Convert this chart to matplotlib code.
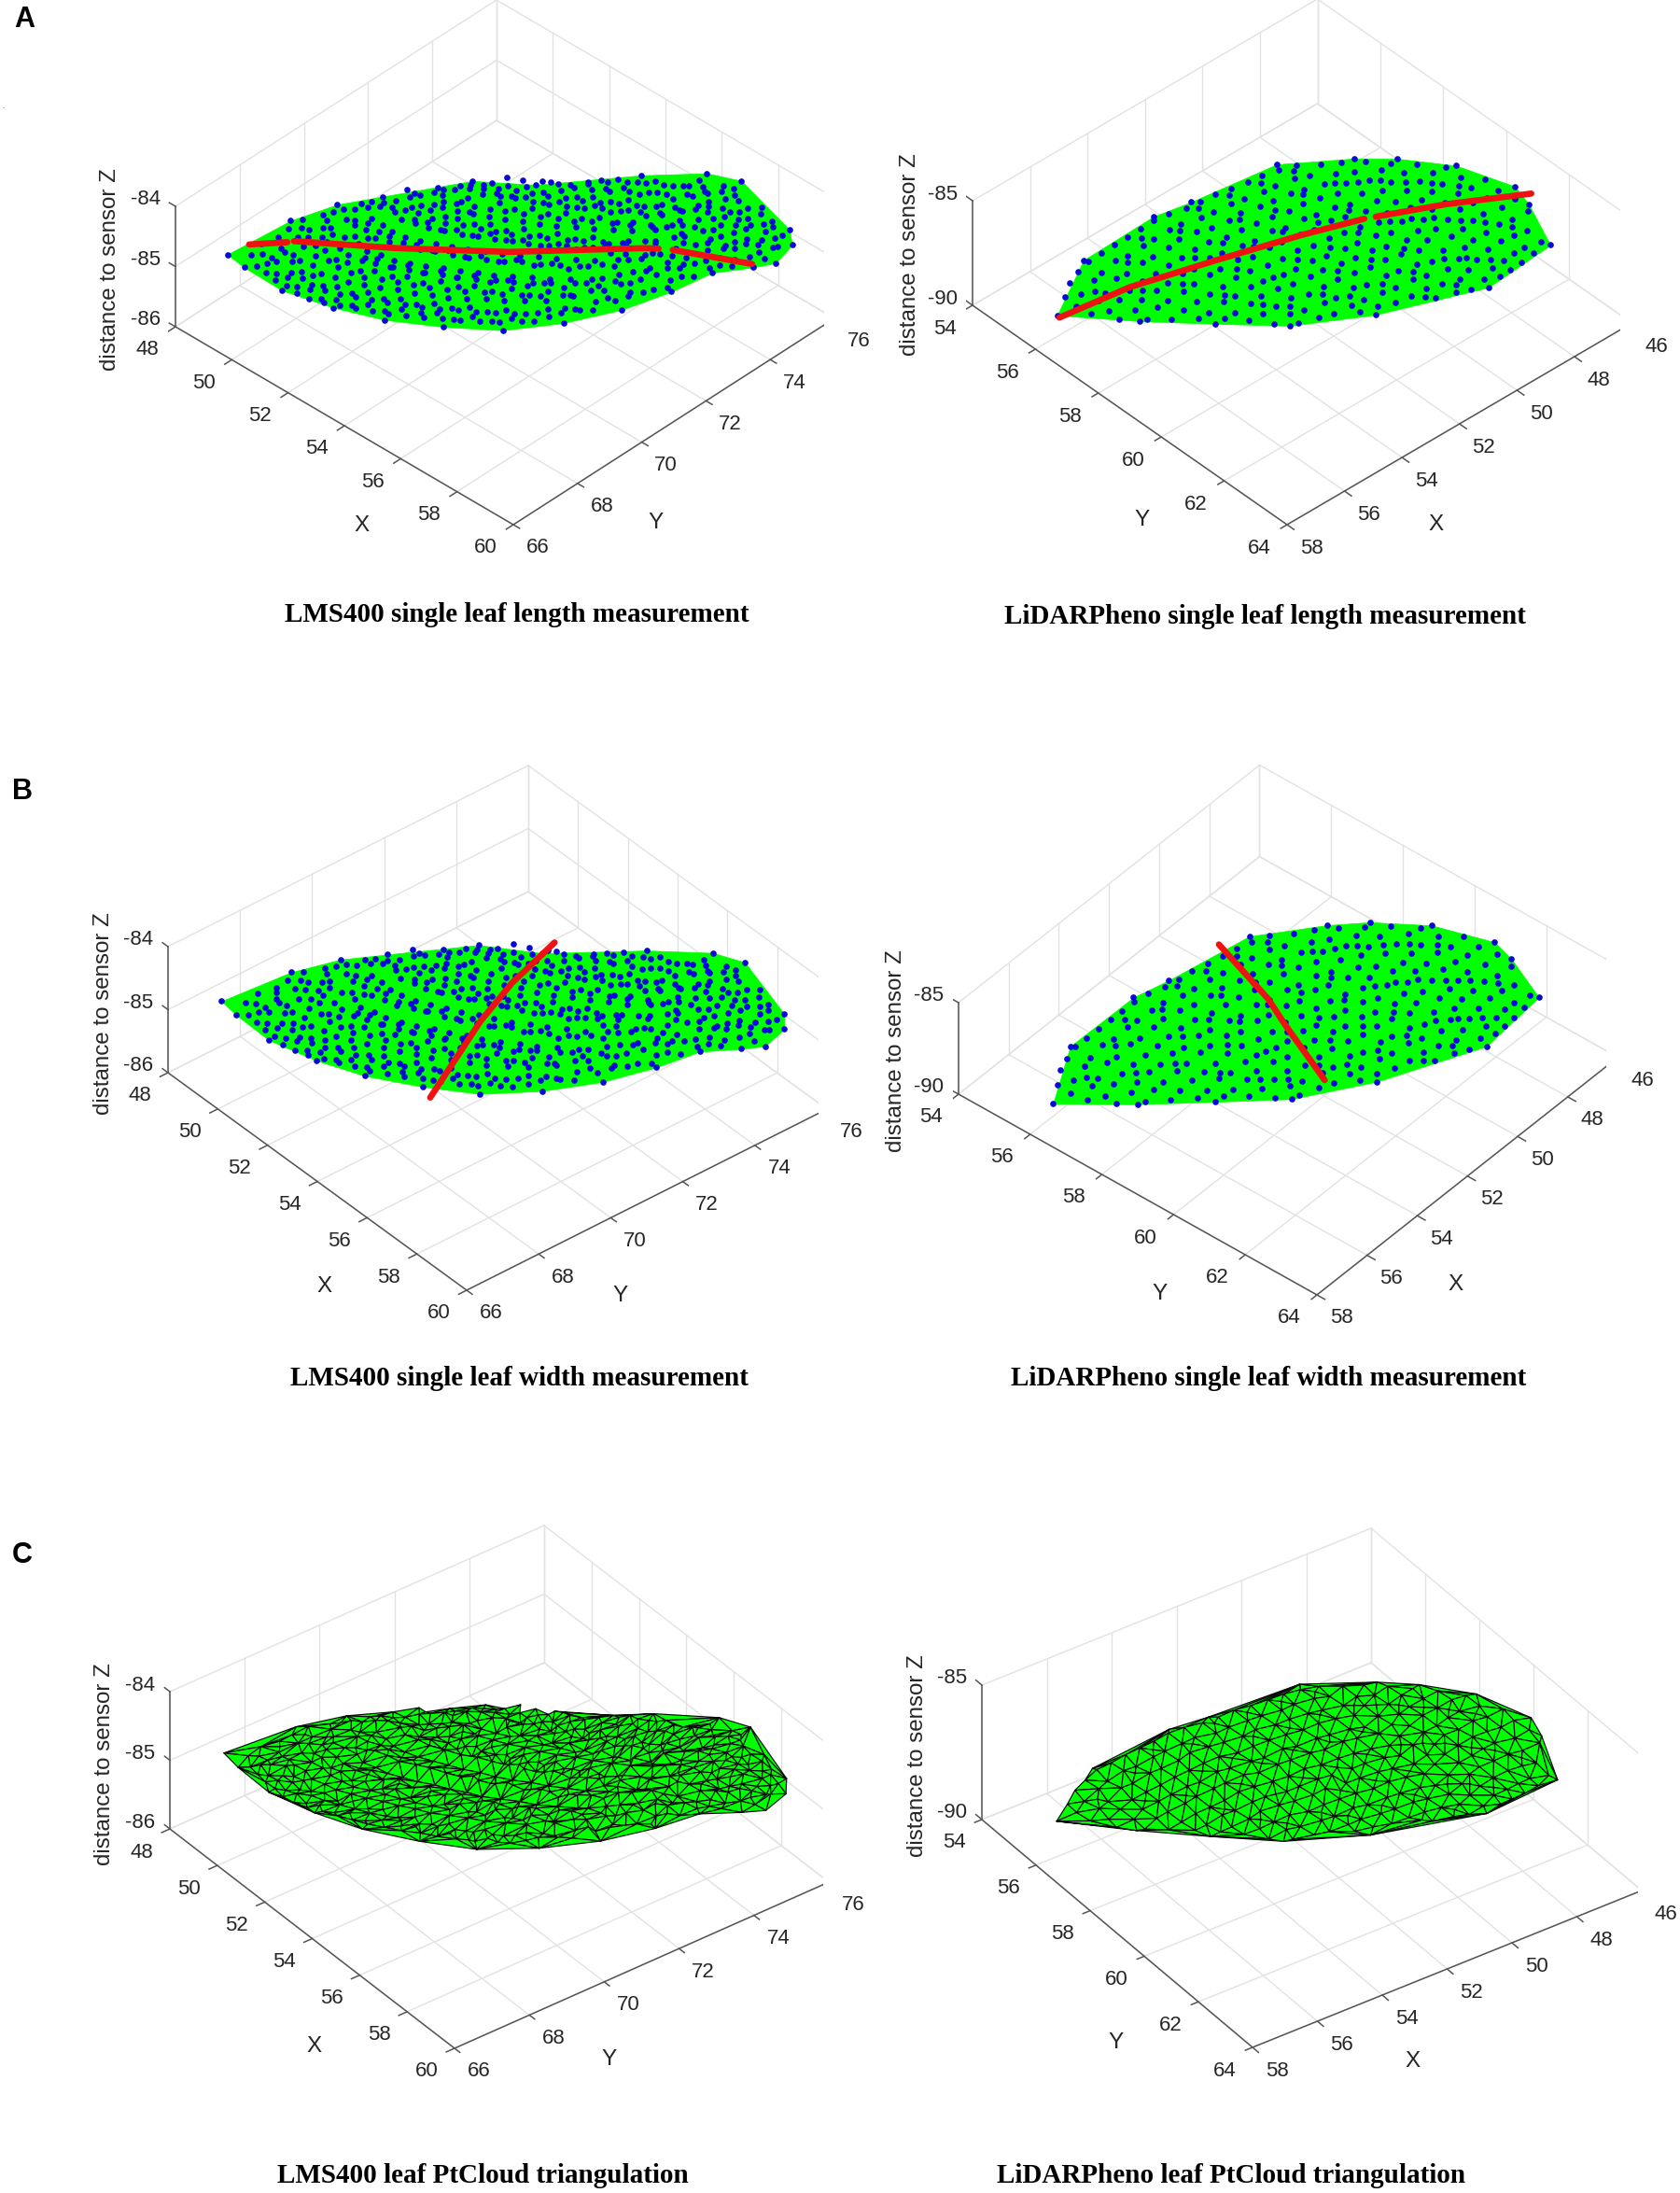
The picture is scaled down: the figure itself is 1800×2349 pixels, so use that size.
#!/usr/bin/python3
# leaf point clouds seen from three oblique views (LMS400 left, LiDARPheno right)
import numpy as np
import matplotlib
matplotlib.use('Agg')
import matplotlib.pyplot as plt
import matplotlib.tri as mtri
from matplotlib.path import Path
from mpl_toolkits.mplot3d import proj3d
from mpl_toolkits.mplot3d.art3d import Poly3DCollection

plt.rcParams['font.family'] = ['Liberation Sans', 'DejaVu Sans']

W, H = 1800, 2349

lms_x_ticks = [48, 50, 52, 54, 56, 58, 60]
lms_y_ticks = [66, 68, 70, 72, 74, 76]
lms_z_ticks = [-86, -85, -84]
lidar_x_ticks = [46, 48, 50, 52, 54, 56, 58]
lidar_y_ticks = [54, 56, 58, 60, 62, 64]
lidar_z_ticks = [-90, -85]

lms_outline = [(48.7,67.0,-84.95),(48.9,68.8,-84.95),(49.3,69.9,-84.95),(50.0,70.7,-84.9),(51.3,72.35,-84.85),
    (52.6,73.2,-84.85),(54.5,74.8,-84.72),(55.7,75.8,-84.7),(56.7,76.0,-84.62),(58.85,75.6,-84.7),(59.3,75.3,-84.73),
    (59.4,74.7,-84.8),(59.1,74.25,-84.8),(58.5,73.5,-84.8),(58.2,72.5,-84.85),(57.8,71.3,-84.85),(57.1,70.1,-84.85),
    (56.2,69.0,-84.84),(54.9,68.3,-84.9),(53.6,67.6,-84.9),(52.3,67.15,-84.9),(50.75,66.9,-84.95),(49.3,67.0,-85.0)]

lms_cloud = [
    (49.1,67.4,-84.98),(49.0,67.8,-84.97),(49.15,68.2,-84.95),(49.05,68.6,-84.98),(49.1,69.0,-84.94),
    (49.5,67.2,-84.99),(49.6,67.6,-84.96),(49.45,68.0,-84.98),(49.55,68.45,-84.93),(49.5,68.85,-84.95),(49.6,69.3,-84.92),(49.45,69.65,-84.95),
    (49.9,67.15,-84.98),(49.8,67.55,-84.96),(49.95,67.95,-84.94),(49.85,68.35,-84.97),(50.0,68.8,-84.92),(49.85,69.2,-84.94),(49.95,69.6,-84.91),(49.8,70.0,-84.93),(49.95,70.4,-84.9),
    (50.3,67.1,-84.97),(50.4,67.5,-84.95),(50.25,67.9,-84.93),(50.35,68.3,-84.96),(50.25,68.75,-84.91),(50.4,69.15,-84.94),(50.3,69.55,-84.9),(50.4,70.0,-84.92),(50.25,70.4,-84.89),(50.35,70.8,-84.91),(50.3,71.2,-84.88),
    (50.7,67.1,-84.96),(50.8,67.5,-84.94),(50.65,67.95,-84.92),(50.75,68.35,-84.95),(50.7,68.75,-84.9),(50.85,69.2,-84.93),(50.65,69.6,-84.89),(50.8,70.0,-84.91),(50.7,70.45,-84.88),(50.85,70.85,-84.9),(50.7,71.25,-84.87),(50.8,71.7,-84.88),
    (51.1,67.05,-84.96),(51.2,67.45,-84.93),(51.05,67.85,-84.91),(51.15,68.3,-84.94),(51.05,68.7,-84.89),(51.25,69.1,-84.92),(51.1,69.5,-84.88),(51.2,69.95,-84.9),(51.05,70.35,-84.87),(51.15,70.8,-84.89),(51.25,71.2,-84.86),(51.1,71.6,-84.88),(51.2,72.05,-84.85),
    (51.5,67.1,-84.95),(51.6,67.5,-84.92),(51.45,67.95,-84.9),(51.55,68.35,-84.93),(51.5,68.75,-84.88),(51.65,69.2,-84.91),(51.5,69.6,-84.87),(51.6,70.0,-84.89),(51.45,70.45,-84.86),(51.6,70.85,-84.88),(51.5,71.25,-84.85),(51.65,71.7,-84.87),(51.5,72.1,-84.84),(51.6,72.45,-84.86),
    (51.9,67.2,-84.94),(52.0,67.6,-84.91),(51.85,68.0,-84.89),(51.95,68.4,-84.92),(51.85,68.85,-84.87),(52.05,69.25,-84.9),(51.9,69.65,-84.86),(52.0,70.1,-84.88),(51.85,70.5,-84.85),(52.0,70.9,-84.87),(51.9,71.35,-84.84),(52.05,71.75,-84.86),(51.9,72.15,-84.83),(52.0,72.55,-84.85),(51.9,72.9,-84.82),
    (52.3,67.35,-84.93),(52.4,67.75,-84.9),(52.25,68.15,-84.88),(52.35,68.6,-84.91),(52.3,69.0,-84.86),(52.45,69.4,-84.89),(52.3,69.85,-84.85),(52.4,70.25,-84.87),(52.25,70.65,-84.84),(52.4,71.1,-84.86),(52.3,71.5,-84.83),(52.45,71.9,-84.85),(52.3,72.35,-84.82),(52.4,72.75,-84.84),(52.3,73.05,-84.81),
    (52.7,67.5,-84.92),(52.8,67.9,-84.89),(52.65,68.3,-84.87),(52.75,68.75,-84.9),(52.7,69.15,-84.85),(52.85,69.55,-84.88),(52.65,70.0,-84.84),(52.8,70.4,-84.86),(52.7,70.8,-84.83),(52.85,71.25,-84.85),(52.7,71.65,-84.82),(52.8,72.05,-84.84),(52.65,72.5,-84.81),(52.8,72.9,-84.83),(52.7,73.3,-84.8),
    (53.1,67.65,-84.91),(53.2,68.05,-84.88),(53.05,68.5,-84.86),(53.15,68.9,-84.89),(53.1,69.3,-84.84),(53.25,69.75,-84.87),(53.1,70.15,-84.83),(53.2,70.55,-84.85),(53.05,71.0,-84.82),(53.2,71.4,-84.84),(53.1,71.8,-84.81),(53.25,72.25,-84.83),(53.1,72.65,-84.8),(53.2,73.05,-84.82),(53.1,73.45,-84.79),
    (53.5,67.8,-84.9),(53.6,68.25,-84.87),(53.45,68.65,-84.85),(53.55,69.05,-84.88),(53.5,69.5,-84.83),(53.65,69.9,-84.86),(53.5,70.3,-84.82),(53.6,70.75,-84.84),(53.45,71.15,-84.81),(53.6,71.55,-84.83),(53.5,72.0,-84.8),(53.65,72.4,-84.82),(53.5,72.8,-84.79),(53.6,73.25,-84.81),(53.5,73.6,-84.78),(53.6,73.95,-84.79),
    (53.9,68.0,-84.89),(54.0,68.4,-84.86),(53.85,68.85,-84.84),(53.95,69.25,-84.87),(53.85,69.65,-84.82),(54.05,70.1,-84.85),(53.9,70.5,-84.81),(54.0,70.9,-84.83),(53.85,71.35,-84.8),(54.0,71.75,-84.82),(53.9,72.15,-84.79),(54.05,72.6,-84.81),(53.9,73.0,-84.78),(54.0,73.4,-84.8),(53.9,73.8,-84.77),(54.0,74.2,-84.76),
    (54.3,68.2,-84.88),(54.4,68.6,-84.85),(54.25,69.0,-84.83),(54.35,69.45,-84.86),(54.3,69.85,-84.81),(54.45,70.25,-84.84),(54.3,70.7,-84.8),(54.4,71.1,-84.82),(54.25,71.5,-84.79),(54.4,71.95,-84.81),(54.3,72.35,-84.78),(54.45,72.75,-84.8),(54.3,73.2,-84.77),(54.4,73.6,-84.79),(54.3,74.0,-84.76),(54.4,74.45,-84.74),
    (54.7,68.45,-84.87),(54.8,68.85,-84.84),(54.65,69.25,-84.82),(54.75,69.7,-84.85),(54.7,70.1,-84.8),(54.85,70.5,-84.83),(54.65,70.95,-84.79),(54.8,71.35,-84.81),(54.7,71.75,-84.78),(54.85,72.2,-84.8),(54.7,72.6,-84.77),(54.8,73.0,-84.79),(54.65,73.45,-84.76),(54.8,73.85,-84.78),(54.7,74.25,-84.75),(54.8,74.7,-84.73),
    (55.1,68.65,-84.86),(55.2,69.05,-84.83),(55.05,69.5,-84.81),(55.15,69.9,-84.84),(55.1,70.3,-84.79),(55.25,70.75,-84.82),(55.1,71.15,-84.78),(55.2,71.55,-84.8),(55.05,72.0,-84.77),(55.2,72.4,-84.79),(55.1,72.8,-84.76),(55.25,73.25,-84.78),(55.1,73.65,-84.75),(55.2,74.05,-84.77),(55.1,74.5,-84.74),(55.2,74.9,-84.72),
    (55.5,68.9,-84.85),(55.6,69.3,-84.82),(55.45,69.7,-84.8),(55.55,70.15,-84.83),(55.5,70.55,-84.78),(55.65,70.95,-84.81),(55.5,71.4,-84.77),(55.6,71.8,-84.79),(55.45,72.2,-84.76),(55.6,72.65,-84.78),(55.5,73.05,-84.75),(55.65,73.45,-84.77),(55.5,73.9,-84.74),(55.6,74.3,-84.76),(55.5,74.7,-84.73),(55.6,75.15,-84.71),
    (55.9,69.15,-84.84),(56.0,69.55,-84.81),(55.85,70.0,-84.79),(55.95,70.4,-84.82),(55.85,70.8,-84.77),(56.05,71.25,-84.8),(55.9,71.65,-84.76),(56.0,72.05,-84.78),(55.85,72.5,-84.75),(56.0,72.9,-84.77),(55.9,73.3,-84.74),(56.05,73.75,-84.76),(55.9,74.15,-84.73),(56.0,74.55,-84.75),(55.9,75.0,-84.72),(56.0,75.4,-84.7),
    (56.3,69.5,-84.83),(56.4,69.9,-84.8),(56.25,70.3,-84.78),(56.35,70.75,-84.81),(56.3,71.15,-84.76),(56.45,71.55,-84.79),(56.3,72.0,-84.75),(56.4,72.4,-84.77),(56.25,72.8,-84.74),(56.4,73.25,-84.76),(56.3,73.65,-84.73),(56.45,74.05,-84.75),(56.3,74.5,-84.72),(56.4,74.9,-84.74),(56.3,75.3,-84.7),(56.4,75.7,-84.68),
    (56.7,70.0,-84.82),(56.8,70.4,-84.79),(56.65,70.8,-84.77),(56.75,71.25,-84.8),(56.7,71.65,-84.75),(56.85,72.05,-84.78),(56.65,72.5,-84.74),(56.8,72.9,-84.76),(56.7,73.3,-84.73),(56.85,73.75,-84.75),(56.7,74.15,-84.72),(56.8,74.55,-84.74),(56.65,75.0,-84.71),(56.8,75.4,-84.69),(56.7,75.75,-84.67),
    (57.1,70.6,-84.81),(57.2,71.0,-84.78),(57.05,71.4,-84.76),(57.15,71.85,-84.79),(57.1,72.25,-84.74),(57.25,72.65,-84.77),(57.1,73.1,-84.73),(57.2,73.5,-84.75),(57.05,73.9,-84.72),(57.2,74.35,-84.74),(57.1,74.75,-84.71),(57.25,75.15,-84.7),(57.1,75.55,-84.68),
    (57.5,71.35,-84.8),(57.6,71.75,-84.77),(57.45,72.2,-84.75),(57.55,72.6,-84.78),(57.5,73.0,-84.73),(57.65,73.45,-84.76),(57.5,73.85,-84.72),(57.6,74.25,-84.74),(57.45,74.7,-84.71),(57.6,75.1,-84.7),(57.5,75.5,-84.68),
    (57.9,72.2,-84.79),(58.0,72.65,-84.76),(57.85,73.05,-84.74),(57.95,73.45,-84.77),(57.9,73.9,-84.72),(58.05,74.3,-84.75),(57.9,74.7,-84.71),(58.0,75.15,-84.7),(57.9,75.55,-84.69),
    (58.3,73.1,-84.78),(58.4,73.5,-84.75),(58.25,73.95,-84.77),(58.35,74.35,-84.73),(58.3,74.75,-84.72),(58.45,75.2,-84.71),(58.3,75.55,-84.7),
    (58.7,73.95,-84.78),(58.8,74.4,-84.75),(58.65,74.8,-84.74),(58.8,75.2,-84.72),
    (59.1,74.6,-84.77),(59.05,75.05,-84.74),
]

# second pass over the same leaf, dots that fall between the rows above
lms_cloud_between = [
    (49.3,67.55,-84.97),(49.25,68.15,-84.99),(49.35,68.75,-84.93),(49.3,69.45,-84.96),
    (49.7,67.35,-84.94),(49.65,67.95,-84.98),(49.75,68.6,-84.92),(49.7,69.1,-84.96),(49.65,69.8,-84.9),(49.75,70.25,-84.93),
    (50.1,67.3,-84.98),(50.15,67.75,-84.93),(50.05,68.55,-84.97),(50.15,69.0,-84.9),(50.1,69.75,-84.94),(50.05,70.2,-84.89),(50.15,70.6,-84.92),
    (50.5,67.3,-84.94),(50.55,67.7,-84.97),(50.45,68.5,-84.91),(50.55,69.35,-84.95),(50.5,69.8,-84.89),(50.45,70.6,-84.92),(50.55,71.05,-84.87),(50.5,71.25,-84.9),
    (50.9,67.25,-84.97),(50.95,67.7,-84.92),(50.85,68.5,-84.96),(50.95,69.4,-84.89),(50.9,69.8,-84.93),(50.85,70.65,-84.87),(50.95,71.05,-84.91),(50.9,71.5,-84.86),(50.95,71.75,-84.89),
    (51.3,67.3,-84.92),(51.35,67.65,-84.96),(51.25,68.5,-84.9),(51.35,68.95,-84.94),(51.3,69.75,-84.87),(51.25,70.6,-84.91),(51.35,71.0,-84.85),(51.3,71.45,-84.89),(51.25,71.85,-84.84),(51.35,72.25,-84.87),
    (51.7,67.3,-84.96),(51.75,67.75,-84.9),(51.65,68.55,-84.94),(51.75,69.0,-84.87),(51.7,69.85,-84.91),(51.65,70.65,-84.85),(51.75,71.1,-84.89),(51.7,71.5,-84.83),(51.65,71.9,-84.88),(51.75,72.3,-84.83),(51.7,72.6,-84.86),
    (52.1,67.4,-84.9),(52.15,67.85,-84.94),(52.05,68.65,-84.87),(52.15,69.05,-84.91),(52.1,69.9,-84.85),(52.05,70.7,-84.89),(52.15,71.15,-84.83),(52.1,71.55,-84.87),(52.15,72.35,-84.82),(52.1,72.75,-84.85),
    (52.5,67.55,-84.94),(52.55,68.0,-84.87),(52.45,68.85,-84.92),(52.55,69.25,-84.85),(52.5,70.05,-84.89),(52.45,70.85,-84.83),(52.55,71.3,-84.87),(52.5,72.15,-84.81),(52.45,72.55,-84.86),(52.55,72.95,-84.81),
    (52.9,67.7,-84.87),(52.95,68.15,-84.91),(52.85,68.95,-84.84),(52.95,69.35,-84.89),(52.9,70.2,-84.82),(52.85,71.0,-84.87),(52.95,71.45,-84.81),(52.9,72.25,-84.85),(52.85,72.65,-84.79),(52.95,73.1,-84.84),(52.9,73.4,-84.79),
    (53.3,67.85,-84.92),(53.35,68.3,-84.85),(53.25,69.1,-84.9),(53.35,69.55,-84.82),(53.3,70.35,-84.87),(53.25,71.2,-84.8),(53.35,71.6,-84.85),(53.3,72.45,-84.79),(53.25,72.85,-84.84),(53.35,73.3,-84.78),(53.3,73.65,-84.82),
    (53.7,68.05,-84.85),(53.75,68.45,-84.9),(53.65,69.3,-84.82),(53.75,69.7,-84.87),(53.7,70.5,-84.8),(53.65,71.35,-84.85),(53.75,71.8,-84.79),(53.7,72.6,-84.83),(53.65,73.0,-84.77),(53.75,73.45,-84.82),(53.7,73.85,-84.76),(53.75,74.2,-84.8),
    (54.1,68.3,-84.89),(54.15,68.65,-84.83),(54.05,69.5,-84.88),(54.15,69.9,-84.8),(54.1,70.7,-84.85),(54.05,71.5,-84.78),(54.15,71.95,-84.83),(54.1,72.8,-84.77),(54.05,73.2,-84.82),(54.15,73.6,-84.76),(54.1,74.05,-84.8),(54.15,74.4,-84.74),
    (54.5,68.45,-84.83),(54.55,68.85,-84.88),(54.45,69.65,-84.8),(54.55,70.05,-84.85),(54.5,70.9,-84.78),(54.45,71.7,-84.83),(54.55,72.15,-84.76),(54.5,72.95,-84.81),(54.45,73.4,-84.75),(54.55,73.8,-84.8),(54.5,74.25,-84.73),(54.55,74.65,-84.77),
    (54.9,68.6,-84.88),(54.95,69.05,-84.81),(54.85,69.85,-84.86),(54.95,70.25,-84.78),(54.9,71.1,-84.83),(54.85,71.9,-84.76),(54.95,72.35,-84.81),(54.9,73.15,-84.75),(54.85,73.55,-84.8),(54.95,74.0,-84.73),(54.9,74.4,-84.78),(54.95,74.85,-84.71),
    (55.3,68.85,-84.81),(55.35,69.25,-84.86),(55.25,70.1,-84.78),(55.35,70.5,-84.84),(55.3,71.3,-84.76),(55.25,72.1,-84.81),(55.35,72.55,-84.74),(55.3,73.35,-84.79),(55.25,73.75,-84.73),(55.35,74.15,-84.78),(55.3,74.6,-84.71),(55.35,75.05,-84.75),
    (55.7,69.1,-84.86),(55.75,69.5,-84.79),(55.65,70.3,-84.85),(55.75,70.7,-84.76),(55.7,71.5,-84.82),(55.65,72.3,-84.74),(55.75,72.7,-84.8),(55.7,73.5,-84.73),(55.65,73.95,-84.78),(55.75,74.35,-84.71),(55.7,74.75,-84.76),(55.75,75.2,-84.69),(55.7,75.55,-84.73),
    (56.1,69.35,-84.79),(56.15,69.75,-84.84),(56.05,70.55,-84.76),(56.15,70.95,-84.82),(56.1,71.75,-84.74),(56.05,72.5,-84.8),(56.15,72.95,-84.73),(56.1,73.75,-84.78),(56.05,74.1,-84.71),(56.15,74.55,-84.76),(56.1,75.0,-84.69),(56.15,75.35,-84.73),
    (56.5,69.7,-84.84),(56.55,70.1,-84.77),(56.45,70.9,-84.83),(56.55,71.3,-84.74),(56.5,72.2,-84.79),(56.45,72.6,-84.73),(56.55,73.45,-84.78),(56.5,73.85,-84.71),(56.45,74.3,-84.76),(56.55,74.7,-84.69),(56.5,75.15,-84.73),(56.55,75.5,-84.67),
    (56.9,70.2,-84.77),(56.95,70.6,-84.83),(56.85,71.4,-84.74),(56.95,71.85,-84.8),(56.9,72.7,-84.72),(56.85,73.1,-84.78),(56.95,73.9,-84.71),(56.9,74.35,-84.76),(56.85,74.8,-84.69),(56.95,75.2,-84.73),(56.9,75.6,-84.66),
    (57.3,70.85,-84.83),(57.35,71.25,-84.75),(57.25,72.05,-84.81),(57.35,72.45,-84.72),(57.3,73.3,-84.78),(57.25,73.7,-84.71),(57.35,74.55,-84.76),(57.3,74.95,-84.69),(57.35,75.35,-84.73),
    (57.7,71.6,-84.75),(57.75,72.0,-84.81),(57.65,72.85,-84.72),(57.75,73.25,-84.78),(57.7,74.05,-84.71),(57.65,74.5,-84.76),(57.75,74.9,-84.69),(57.7,75.3,-84.73),(57.75,75.7,-84.67),
    (58.1,72.45,-84.8),(58.15,72.85,-84.73),(58.05,73.7,-84.79),(58.15,74.15,-84.71),(58.1,74.55,-84.76),(58.05,74.95,-84.69),(58.15,75.4,-84.73),
    (58.5,73.75,-84.75),(58.55,74.15,-84.79),(58.45,74.6,-84.71),(58.55,75.0,-84.75),(58.5,75.4,-84.69),
    (58.9,74.6,-84.72),(58.95,75.0,-84.76),(58.9,75.35,-84.7),
]

lidar_outline = [(57.75,56.46,-88.1),(56.06,55.76,-87.55),(53.91,56.02,-86.92),(52.97,56.35,-86.64),(50.71,57.01,-85.96),
    (49.32,58.2,-85.55),(48.6,58.9,-85.4),(47.81,60.06,-85.15),(47.29,61.46,-85.1),(47.45,62.04,-85.2),(47.81,63.06,-85.8),
    (50.13,63.22,-85.79),(52.59,61.88,-86.53),(54.28,60.69,-86.95),(55.4,59.34,-87.37),(56.56,58.0,-87.72)]

lidar_cloud = [
    (57.2,56.2,-87.95),(57.25,56.6,-87.9),(57.15,57.0,-87.92),
    (56.8,56.0,-87.8),(56.85,56.4,-87.85),(56.75,56.85,-87.78),(56.8,57.25,-87.82),(56.85,57.6,-87.8),
    (56.4,55.9,-87.7),(56.35,56.35,-87.66),(56.45,56.8,-87.72),(56.4,57.2,-87.68),(56.35,57.65,-87.7),(56.4,58.1,-87.66),
    (56.0,55.85,-87.55),(56.05,56.3,-87.58),(55.95,56.7,-87.53),(56.0,57.15,-87.57),(56.05,57.6,-87.52),(55.95,58.0,-87.56),(56.0,58.5,-87.54),
    (55.6,55.9,-87.45),(55.55,56.3,-87.42),(55.65,56.75,-87.47),(55.6,57.2,-87.43),(55.55,57.6,-87.46),(55.65,58.05,-87.42),(55.6,58.5,-87.45),(55.55,58.95,-87.4),
    (55.2,55.95,-87.3),(55.25,56.4,-87.33),(55.15,56.8,-87.28),(55.2,57.25,-87.32),(55.25,57.7,-87.27),(55.15,58.1,-87.31),(55.2,58.55,-87.28),(55.25,59.0,-87.3),(55.15,59.4,-87.27),
    (54.8,56.0,-87.2),(54.75,56.45,-87.17),(54.85,56.85,-87.22),(54.8,57.3,-87.18),(54.75,57.7,-87.21),(54.85,58.15,-87.16),(54.8,58.6,-87.2),(54.75,59.0,-87.17),(54.85,59.45,-87.19),(54.8,59.85,-87.15),
    (54.4,56.05,-87.1),(54.45,56.5,-87.07),(54.35,56.9,-87.12),(54.4,57.35,-87.08),(54.45,57.8,-87.11),(54.35,58.2,-87.06),(54.4,58.65,-87.1),(54.45,59.1,-87.07),(54.35,59.5,-87.09),(54.4,59.95,-87.05),(54.45,60.35,-87.07),
    (54.0,56.1,-86.95),(53.95,56.55,-86.98),(54.05,56.95,-86.93),(54.0,57.4,-86.97),(53.95,57.85,-86.92),(54.05,58.25,-86.96),(54.0,58.7,-86.93),(53.95,59.15,-86.95),(54.05,59.55,-86.91),(54.0,60.0,-86.95),(53.95,60.4,-86.92),(54.05,60.75,-86.94),
    (53.6,56.2,-86.85),(53.65,56.65,-86.82),(53.55,57.05,-86.87),(53.6,57.5,-86.83),(53.65,57.95,-86.86),(53.55,58.35,-86.81),(53.6,58.8,-86.85),(53.65,59.25,-86.82),(53.55,59.65,-86.84),(53.6,60.1,-86.8),(53.65,60.55,-86.83),(53.55,60.95,-86.85),
    (53.2,56.4,-86.7),(53.15,56.85,-86.73),(53.25,57.25,-86.68),(53.2,57.7,-86.72),(53.15,58.15,-86.67),(53.25,58.55,-86.71),(53.2,59.0,-86.68),(53.15,59.45,-86.7),(53.25,59.85,-86.66),(53.2,60.3,-86.7),(53.15,60.75,-86.67),(53.25,61.15,-86.7),
    (52.8,56.5,-86.6),(52.85,56.95,-86.57),(52.75,57.35,-86.62),(52.8,57.8,-86.58),(52.85,58.25,-86.61),(52.75,58.65,-86.56),(52.8,59.1,-86.6),(52.85,59.55,-86.57),(52.75,59.95,-86.59),(52.8,60.4,-86.55),(52.85,60.85,-86.58),(52.75,61.25,-86.6),(52.8,61.55,-86.57),
    (52.4,56.6,-86.45),(52.35,57.05,-86.48),(52.45,57.45,-86.43),(52.4,57.9,-86.47),(52.35,58.35,-86.42),(52.45,58.75,-86.46),(52.4,59.2,-86.43),(52.35,59.65,-86.45),(52.45,60.05,-86.41),(52.4,60.5,-86.45),(52.35,60.95,-86.42),(52.45,61.35,-86.46),(52.4,61.75,-86.43),
    (52.0,56.75,-86.35),(52.05,57.2,-86.32),(51.95,57.6,-86.37),(52.0,58.05,-86.33),(52.05,58.5,-86.36),(51.95,58.9,-86.31),(52.0,59.35,-86.35),(52.05,59.8,-86.32),(51.95,60.2,-86.34),(52.0,60.65,-86.3),(52.05,61.1,-86.33),(51.95,61.5,-86.36),(52.0,61.95,-86.33),
    (51.6,56.9,-86.2),(51.55,57.35,-86.23),(51.65,57.75,-86.18),(51.6,58.2,-86.22),(51.55,58.65,-86.17),(51.65,59.05,-86.21),(51.6,59.5,-86.18),(51.55,59.95,-86.2),(51.65,60.35,-86.16),(51.6,60.8,-86.2),(51.55,61.25,-86.17),(51.65,61.65,-86.21),(51.6,62.1,-86.18),
    (51.2,57.0,-86.1),(51.25,57.45,-86.07),(51.15,57.85,-86.12),(51.2,58.3,-86.08),(51.25,58.75,-86.11),(51.15,59.15,-86.06),(51.2,59.6,-86.1),(51.25,60.05,-86.07),(51.15,60.45,-86.09),(51.2,60.9,-86.05),(51.25,61.35,-86.08),(51.15,61.75,-86.11),(51.2,62.2,-86.08),(51.25,62.55,-86.1),
    (50.8,57.15,-86.0),(50.75,57.6,-85.97),(50.85,58.0,-86.02),(50.8,58.45,-85.98),(50.75,58.9,-86.01),(50.85,59.3,-85.96),(50.8,59.75,-86.0),(50.75,60.2,-85.97),(50.85,60.6,-85.99),(50.8,61.05,-85.95),(50.75,61.5,-85.98),(50.85,61.9,-86.01),(50.8,62.35,-85.98),(50.75,62.75,-86.0),
    (50.4,57.35,-85.9),(50.45,57.8,-85.87),(50.35,58.2,-85.92),(50.4,58.65,-85.88),(50.45,59.1,-85.91),(50.35,59.5,-85.86),(50.4,59.95,-85.9),(50.45,60.4,-85.87),(50.35,60.8,-85.89),(50.4,61.25,-85.85),(50.45,61.7,-85.88),(50.35,62.1,-85.91),(50.4,62.55,-85.88),(50.45,62.95,-85.9),
    (50.0,57.75,-85.75),(49.95,58.2,-85.78),(50.05,58.6,-85.73),(50.0,59.05,-85.77),(49.95,59.5,-85.72),(50.05,59.9,-85.76),(50.0,60.35,-85.73),(49.95,60.8,-85.75),(50.05,61.2,-85.71),(50.0,61.65,-85.75),(49.95,62.1,-85.72),(50.05,62.5,-85.76),(50.0,62.95,-85.8),
    (49.6,58.05,-85.65),(49.65,58.5,-85.62),(49.55,58.9,-85.67),(49.6,59.35,-85.63),(49.65,59.8,-85.66),(49.55,60.2,-85.61),(49.6,60.65,-85.65),(49.65,61.1,-85.62),(49.55,61.5,-85.64),(49.6,61.95,-85.66),(49.65,62.4,-85.7),(49.55,62.8,-85.75),(49.6,63.1,-85.8),
    (49.2,58.45,-85.55),(49.15,58.9,-85.52),(49.25,59.3,-85.57),(49.2,59.75,-85.53),(49.15,60.2,-85.56),(49.25,60.6,-85.51),(49.2,61.05,-85.55),(49.15,61.5,-85.57),(49.25,61.9,-85.6),(49.2,62.35,-85.65),(49.15,62.8,-85.72),(49.25,63.1,-85.78),
    (48.8,58.9,-85.45),(48.85,59.35,-85.42),(48.75,59.75,-85.47),(48.8,60.2,-85.43),(48.85,60.65,-85.46),(48.75,61.05,-85.45),(48.8,61.5,-85.48),(48.85,61.95,-85.53),(48.75,62.35,-85.6),(48.8,62.8,-85.68),(48.85,63.1,-85.76),
    (48.4,59.35,-85.35),(48.35,59.8,-85.32),(48.45,60.2,-85.37),(48.4,60.65,-85.36),(48.35,61.1,-85.4),(48.45,61.5,-85.44),(48.4,61.95,-85.5),(48.35,62.4,-85.58),(48.45,62.8,-85.66),(48.4,63.05,-85.74),
    (48.0,59.9,-85.25),(47.95,60.35,-85.28),(48.05,60.75,-85.3),(48.0,61.2,-85.33),(47.95,61.65,-85.38),(48.05,62.05,-85.45),(48.0,62.5,-85.55),(47.95,62.9,-85.7),
    (47.6,60.8,-85.18),(47.65,61.25,-85.2),(47.55,61.7,-85.22),(47.6,62.15,-85.3),
]

lidar_cloud_between = [
    (56.6,56.6,-87.72),(55.8,57.4,-87.5),(55.4,56.55,-87.38),(55.0,57.95,-87.22),(54.6,56.25,-87.15),(54.6,58.9,-87.12),
    (54.2,57.6,-87.0),(54.2,59.75,-86.98),(53.8,56.75,-86.9),(53.8,58.55,-86.86),(53.8,60.25,-86.88),(53.4,57.75,-86.78),
    (53.4,59.35,-86.76),(53.0,56.6,-86.65),(53.0,58.35,-86.66),(53.0,60.55,-86.62),(52.6,57.55,-86.52),(52.6,59.4,-86.5),
    (52.6,61.05,-86.5),(52.2,56.85,-86.42),(52.2,58.55,-86.38),(52.2,60.3,-86.4),(51.8,57.95,-86.27),(51.8,59.7,-86.25),
    (51.8,61.35,-86.26),(51.4,57.15,-86.15),(51.4,58.95,-86.14),(51.4,60.65,-86.13),(51.4,62.35,-86.15),(51.0,58.1,-86.03),
    (51.0,59.85,-86.02),(51.0,61.6,-86.04),(50.6,57.45,-85.92),(50.6,59.2,-85.93),(50.6,60.95,-85.91),(50.6,62.6,-85.94),
    (50.2,58.4,-85.82),(50.2,60.15,-85.8),(50.2,61.85,-85.82),(49.8,58.75,-85.7),(49.8,60.45,-85.68),(49.8,62.2,-85.72),
    (49.4,59.1,-85.6),(49.4,60.8,-85.58),(49.4,62.6,-85.7),(49.0,59.55,-85.5),(49.0,61.3,-85.52),(48.6,60.0,-85.4),
    (48.6,61.7,-85.48),(48.2,60.5,-85.32),(48.2,62.2,-85.52),
]

# red measuring lines, nan marks the gaps seen in the trace
lms_length_x = [48.94, 49.6, np.nan, 49.71, 51.82, 54.03, 56.45, 56.72, np.nan, 57.02, 58.9]
lms_length_y = [67.47, 68.08, np.nan, 68.19, 69.51, 71.09, 73.21, 73.4, np.nan, 73.58, 74.4]
lms_length_z = [-84.88, -84.87, np.nan, -84.86, -84.85, -84.85, -84.85, -84.85, np.nan, -84.85, -84.85]
lms_width_x = [55.48, 53.81, 53.08, 52.46]
lms_width_y = [68.11, 70.66, 72.04, 73.65]
lms_width_z = [-84.85, -84.85, -84.85, -84.85]
lidar_length_x = [57.78, 55.94, 53.93, 51.95, 50.55, np.nan, 50.32, 48.9, 47.27]
lidar_length_y = [56.56, 57.11, 58.0, 58.93, 59.65, np.nan, 59.8, 60.73, 61.96]
lidar_length_z = [-88.08, -87.53, -86.93, -86.33, -85.92, np.nan, -85.85, -85.42, -84.93]
lidar_width_x = [51.35, 52.03, 52.44, 53.29]
lidar_width_y = [56.61, 58.46, 59.21, 60.92]
lidar_width_z = [-86.15, -86.36, -86.48, -86.74]

# where the box corners sit in the picture: left, front, right, z top (y)
view_a_left = ((188, 350), (550, 562), (894, 341), 221)
view_a_right = ((1042, 327), (1379, 562), (1748.5, 346), 215)
view_b_left = ((180, 1149), (500, 1382), (886, 1188), 1014)
view_b_right = ((1027, 1172), (1411, 1387), (1733.5, 1132.5), 1074)
view_c_left = ((182, 1959), (487, 2194), (888, 2016), 1812)
view_c_right = ((1052, 1949), (1342, 2193), (1759, 2025), 1805)

GREEN = '#00ff00'
BLUE = '#0808d8'
RED = '#ee1212'
GRID = '#e2e2e2'
DARK = '#555555'
TXT = '#262626'


def figxy(x, y):
    return x / W, 1 - y / H


def solve_view(view, lidar):
    (lx, ly), (fx, fy), (rx, ry), ztop = view
    e1x, e1y = fx - lx, abs(ly - fy)
    e2x, e2y = rx - fx, abs(fy - ry)
    s = np.sqrt(e1y * e2y / (e1x * e2x))
    el = np.arcsin(s)
    if lidar:
        az = np.arctan(e1y / (s * e1x))
        bx, by = e2x / np.sin(az), e1x / np.cos(az)
        azim = np.degrees(az)
    else:
        az = np.arctan(e2y / (s * e2x))
        bx, by = e1x / np.sin(az), e2x / np.cos(az)
        azim = -np.degrees(az)
    bz = (ly - ztop) / np.cos(el)
    return np.degrees(el), azim, (bx, by, bz)


def corners_px(ax, pts):
    M = ax.get_proj()
    xs, ys, zs = zip(*pts)
    tx, ty, _ = proj3d.proj_transform(np.array(xs, float), np.array(ys, float), np.array(zs, float), M)
    return ax.transData.transform(np.c_[tx, ty])


def set_square(ax, cx, cy, side):
    ax.set_position([(cx - side / 2) / W, (cy - side / 2) / H, side / W, side / H])
    ax.apply_aspect()


def make_axes(fig, view, xt, yt, zt, lidar):
    ax = fig.add_subplot(projection='3d')
    ax.set_proj_type('ortho')
    ax.set_xlim(xt[0], xt[-1], view_margin=0)
    ax.set_ylim(yt[0], yt[-1], view_margin=0)
    ax.set_zlim(zt[0], zt[-1], view_margin=0)
    el, az, box = solve_view(view, lidar)
    ax.view_init(elev=el, azim=az)
    ax.set_box_aspect(box)
    ax.set_axis_off()
    ax.patch.set_visible(False)
    ax.computed_zorder = False

    # fit the square axes so that the projected box lands on the reference corners
    if lidar:
        L3, R3 = (xt[-1], yt[0], zt[0]), (xt[0], yt[-1], zt[0])
    else:
        L3, R3 = (xt[0], yt[0], zt[0]), (xt[-1], yt[-1], zt[0])
    tL = np.array([view[0][0], H - view[0][1]])
    tR = np.array([view[2][0], H - view[2][1]])
    cx, cy, side = W / 2, H / 2, 1000.0
    set_square(ax, cx, cy, side)
    p = corners_px(ax, [L3, R3])
    side *= np.linalg.norm(tR - tL) / np.linalg.norm(p[1] - p[0])
    set_square(ax, cx, cy, side)
    p = corners_px(ax, [L3, R3])
    d = tL - p[0]
    set_square(ax, cx + d[0], cy + d[1], side)
    return ax


def tick_label(fig, ax, pt, s, dx, dy):
    # the label is plain figure text placed next to the projected tick
    p = corners_px(ax, [pt])[0]
    fig.text((p[0] + dx) / W, (p[1] + dy) / H, s, fontsize=16, color=TXT, ha='center', va='center')


def draw_box(ax, fig, xt, yt, zt, lidar):
    x0, x1 = xt[0], xt[-1]
    y0, y1 = yt[0], yt[-1]
    z0, z1 = zt[0], zt[-1]
    yb = y0 if lidar else y1   # back wall
    yf = y1 if lidar else y0   # front edge carrying the x axis
    gk = dict(color=GRID, lw=1.0, zorder=1)
    for x in xt:
        ax.plot([x, x], [y0, y1], [z0, z0], **gk)
        ax.plot([x, x], [yb, yb], [z0, z1], **gk)
    for y in yt:
        ax.plot([x0, x1], [y, y], [z0, z0], **gk)
        ax.plot([x0, x0], [y, y], [z0, z1], **gk)
    for z in zt:
        ax.plot([x0, x1], [yb, yb], [z, z], **gk)
        ax.plot([x0, x0], [y0, y1], [z, z], **gk)

    dk = dict(color=DARK, lw=1.1, zorder=1.5)
    ax.plot([x0, x1], [yf, yf], [z0, z0], **dk)
    ax.plot([x1, x1], [y0, y1], [z0, z0], **dk)
    zx = x1 if lidar else x0
    zy = y0
    ax.plot([zx, zx], [zy, zy], [z0, z1], **dk)

    ty = 0.22 if lidar else -0.22
    for x in xt:
        ax.plot([x, x], [yf, yf + ty], [z0, z0], **dk)
        dx = 26 if lidar else -30
        tick_label(fig, ax, (x, yf, z0), str(x), dx, -25)
    for y in yt:
        ax.plot([x1, x1 + 0.22], [y, y], [z0, z0], **dk)
        dx = -30 if lidar else 26
        tick_label(fig, ax, (x1, y, z0), str(y), dx, -25)
    for z in zt:
        if lidar:
            ax.plot([zx, zx], [zy, zy - 0.22], [z, z], **dk)
        else:
            ax.plot([zx, zx - 0.22], [zy, zy], [z, z], **dk)
        tick_label(fig, ax, (zx, zy, z), str(z), -32, 7)


def draw_leaf(ax, cloud, outline, line):
    pts = np.array(outline + cloud)
    ol = np.array(outline)
    ax.add_collection3d(Poly3DCollection([ol], facecolors=GREEN, edgecolors=GREEN, linewidths=0.5, zorder=2))
    ax.scatter(pts[:, 0], pts[:, 1], pts[:, 2], s=23, c=BLUE, linewidths=0, depthshade=False, zorder=3)
    lx, ly, lz = line
    ax.plot(lx, ly, lz, color=RED, lw=4.8, solid_capstyle='round', zorder=4)


def draw_mesh(ax, cloud, outline):
    pts = np.array(outline + cloud)
    ol = np.array(outline)
    tri = mtri.Triangulation(pts[:, 0], pts[:, 1])
    cx = pts[tri.triangles, 0].mean(axis=1)
    cy = pts[tri.triangles, 1].mean(axis=1)
    tri.set_mask(~Path(ol[:, :2]).contains_points(np.c_[cx, cy]))
    ax.plot_trisurf(tri, pts[:, 2], color=GREEN, edgecolor='#0a0a0a', linewidth=0.85, shade=False, zorder=2)


lms_all = lms_cloud + lms_cloud_between
lidar_all = lidar_cloud + lidar_cloud_between

fig = plt.figure(figsize=(W / 100, H / 100), dpi=100, facecolor='white')

ax = make_axes(fig, view_a_left, lms_x_ticks, lms_y_ticks, lms_z_ticks, False)
draw_box(ax, fig, lms_x_ticks, lms_y_ticks, lms_z_ticks, False)
draw_leaf(ax, lms_all, lms_outline, (lms_length_x, lms_length_y, lms_length_z))

ax = make_axes(fig, view_a_right, lidar_x_ticks, lidar_y_ticks, lidar_z_ticks, True)
draw_box(ax, fig, lidar_x_ticks, lidar_y_ticks, lidar_z_ticks, True)
draw_leaf(ax, lidar_all, lidar_outline, (lidar_length_x, lidar_length_y, lidar_length_z))

ax = make_axes(fig, view_b_left, lms_x_ticks, lms_y_ticks, lms_z_ticks, False)
draw_box(ax, fig, lms_x_ticks, lms_y_ticks, lms_z_ticks, False)
draw_leaf(ax, lms_all, lms_outline, (lms_width_x, lms_width_y, lms_width_z))

ax = make_axes(fig, view_b_right, lidar_x_ticks, lidar_y_ticks, lidar_z_ticks, True)
draw_box(ax, fig, lidar_x_ticks, lidar_y_ticks, lidar_z_ticks, True)
draw_leaf(ax, lidar_all, lidar_outline, (lidar_width_x, lidar_width_y, lidar_width_z))

ax = make_axes(fig, view_c_left, lms_x_ticks, lms_y_ticks, lms_z_ticks, False)
draw_box(ax, fig, lms_x_ticks, lms_y_ticks, lms_z_ticks, False)
draw_mesh(ax, lms_all, lms_outline)

ax = make_axes(fig, view_c_right, lidar_x_ticks, lidar_y_ticks, lidar_z_ticks, True)
draw_box(ax, fig, lidar_x_ticks, lidar_y_ticks, lidar_z_ticks, True)
draw_mesh(ax, lidar_all, lidar_outline)

# axis names: (text, x, y) in picture pixels
axis_names = [('X', 388, 563), ('Y', 703, 560), ('Y', 1224, 557), ('X', 1539, 562),
              ('X', 348, 1378), ('Y', 665, 1388), ('Y', 1243, 1386), ('X', 1560, 1376),
              ('X', 337, 2192), ('Y', 653, 2206), ('Y', 1196, 2188), ('X', 1514, 2208)]
for s, x, y in axis_names:
    fx, fy = figxy(x, y)
    fig.text(fx, fy, s, fontsize=17.5, color=TXT, ha='center', va='center')

z_names = [(118, 289), (975, 273), (111, 1086), (960, 1126), (112, 1890), (983, 1881)]
for x, y in z_names:
    fx, fy = figxy(x, y)
    fig.text(fx, fy, 'distance to sensor Z', fontsize=17.4, color=TXT, rotation=90, ha='center', va='center')

titles = [('LMS400 single leaf length measurement', 554, 659),
          ('LiDARPheno single leaf length measurement', 1355, 660),
          ('LMS400 single leaf width measurement', 556, 1477),
          ('LiDARPheno single leaf width measurement', 1359, 1477),
          ('LMS400 leaf PtCloud triangulation', 517, 2331),
          ('LiDARPheno leaf PtCloud triangulation', 1319, 2331)]
for s, x, y in titles:
    fx, fy = figxy(x, y)
    fig.text(fx, fy, s, fontsize=21, fontweight='bold', family='Liberation Serif', color='black', ha='center', va='center')

for s, x, y in [('A', 26, 21), ('B', 24, 848), ('C', 24, 1666)]:
    fx, fy = figxy(x, y)
    fig.text(fx, fy, s, fontsize=22, fontweight='bold', color='black', ha='center', va='center')

fx, fy = figxy(3, 114)
fig.text(fx, fy, '.', fontsize=6, color='#333333', ha='center', va='center')

fig.savefig('out.png', dpi=100)
